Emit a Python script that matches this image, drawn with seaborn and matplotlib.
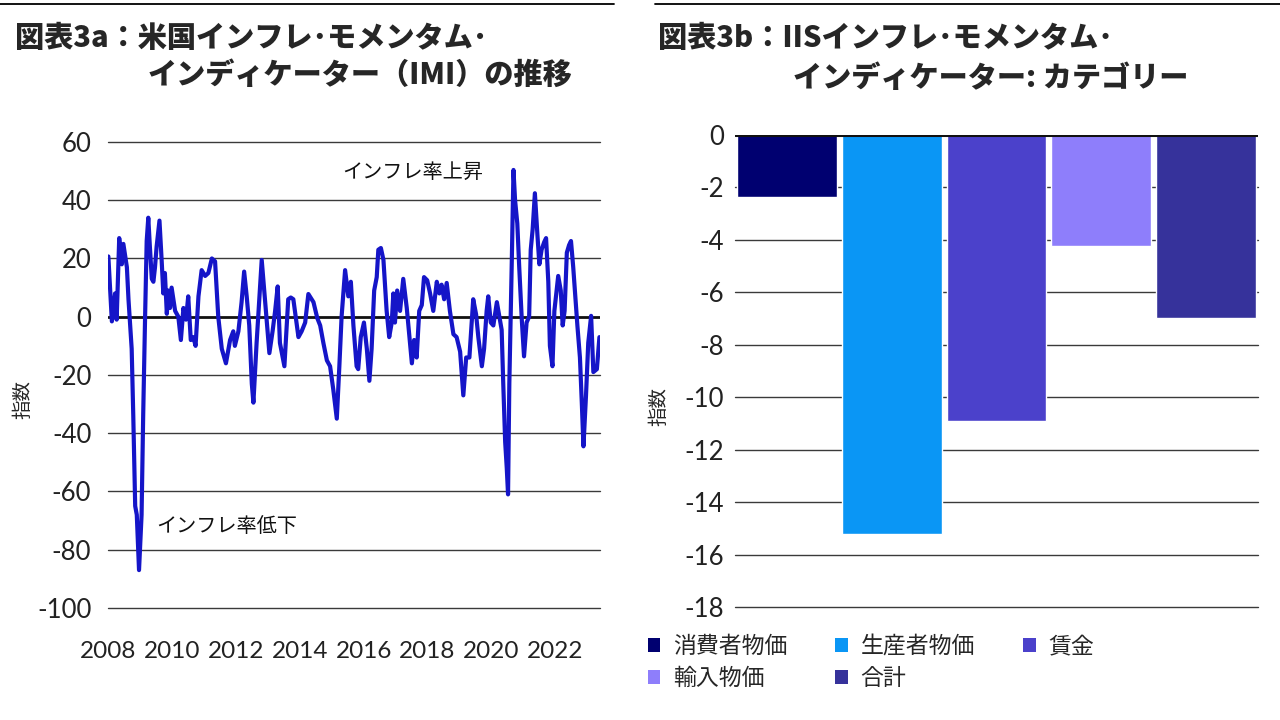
import matplotlib
matplotlib.use("Agg")
import matplotlib.pyplot as plt
import seaborn as sns
import pandas as pd
from matplotlib.lines import Line2D
from matplotlib.patches import Patch

sns.set_theme(style="white")
plt.rcParams['font.family'] = ['Noto Sans CJK JP', 'DejaVu Sans']
plt.rcParams['axes.unicode_minus'] = False

# 図表3a: 米国IMI (読み取り値)
imi_years = [
    2008.01, 2008.12, 2008.22, 2008.27, 2008.35, 2008.43, 2008.48, 2008.59, 2008.64, 2008.74,
    2008.79, 2008.85, 2008.90, 2008.97, 2009.05, 2009.10, 2009.16, 2009.21, 2009.26, 2009.31,
    2009.37, 2009.42, 2009.47, 2009.52, 2009.61, 2009.68, 2009.73, 2009.78, 2009.84, 2009.89,
    2009.94, 2009.99, 2010.10, 2010.20, 2010.28, 2010.36, 2010.44, 2010.51, 2010.59, 2010.67,
    2010.74, 2010.83, 2010.93, 2011.04, 2011.14, 2011.25, 2011.35, 2011.45, 2011.56, 2011.69,
    2011.82, 2011.92, 2011.97, 2012.08, 2012.18, 2012.26, 2012.34, 2012.42, 2012.50, 2012.55,
    2012.65, 2012.74, 2012.81, 2012.91, 2013.05, 2013.15, 2013.23, 2013.31, 2013.38, 2013.52,
    2013.64, 2013.72, 2013.80, 2013.96, 2014.06, 2014.17, 2014.27, 2014.43, 2014.55, 2014.64,
    2014.74, 2014.85, 2014.95, 2015.05, 2015.16, 2015.24, 2015.31, 2015.42, 2015.52, 2015.60,
    2015.68, 2015.78, 2015.83, 2015.91, 2016.01, 2016.10, 2016.18, 2016.25, 2016.33, 2016.41,
    2016.46, 2016.54, 2016.62, 2016.72, 2016.80, 2016.88, 2016.93, 2016.98, 2017.05, 2017.14,
    2017.24, 2017.35, 2017.45, 2017.51, 2017.58, 2017.66, 2017.74, 2017.82, 2017.89, 2017.99,
    2018.08, 2018.18, 2018.29, 2018.37, 2018.44, 2018.52, 2018.60, 2018.70, 2018.81, 2018.91,
    2019.02, 2019.12, 2019.21, 2019.31, 2019.38, 2019.43, 2019.52, 2019.59, 2019.70, 2019.77,
    2019.85, 2019.90, 2019.98, 2020.06, 2020.17, 2020.25, 2020.32, 2020.37, 2020.43, 2020.48,
    2020.52, 2020.56, 2020.64, 2020.69, 2020.74, 2020.81, 2020.87, 2020.95, 2021.02, 2021.10,
    2021.18, 2021.23, 2021.29, 2021.36, 2021.44, 2021.50, 2021.57, 2021.65, 2021.71, 2021.78,
    2021.83, 2021.91, 2021.97, 2022.04, 2022.09, 2022.17, 2022.23, 2022.29, 2022.36, 2022.43,
    2022.49, 2022.56, 2022.63, 2022.69, 2022.77, 2022.83, 2022.88, 2022.96, 2023.03, 2023.12,
    2023.19, 2023.30, 2023.38,
]
imi_values = [
    20.7, -1.6, 8, -1, 27, 18, 25, 17, 6, -11,
    -34, -65, -68, -87, -68, -34, 0, 26, 34, 24,
    13, 12, 17, 24, 33, 19, 8, 15, 1, 9,
    3, 10, 2, 0, -8, 3, -1, 7, -8, -7,
    -10, 7, 16, 14, 15, 20, 19, 0, -11, -16,
    -8, -5, -10, -5, 5, 15.5, 7, -3, -23, -29.5,
    -9, 7, 19.5, 6, -12.5, -5, 2, 10.4, -9, -17,
    6, 6.6, 6, -7, -5, -2, 7.8, 5, -0.5, -3,
    -9, -15, -17, -25, -35, -17, 0, 16, 7, 12,
    -3, -17, -18, -7, -2, -11, -22, -11, 9, 13.6,
    23, 23.6, 19.5, 2, -7, -2, 8, -2, 9, 2,
    13, 3, -9, -16, -8, -14, 2, 4, 13.6, 12.5,
    8, 2, 12, 8, 11, 6, 11.6, 2, -6, -7,
    -12, -27, -14, -14, -2, 6, 0.8, -7, -17, -11,
    2, 7, -2, -3, 5, 0, -4.5, -23, -43, -52,
    -61, -23, 20.7, 50.4, 40, 32, 17, -1, -13.6, -2,
    0, 23, 30, 42.4, 28, 18, 23, 25.6, 27, 12,
    -10, -17, 2, 9, 14, 9, -3, 2, 22, 24.6,
    26, 17, 6, -3, -14, -30, -44.5, -27, -9, 0.3,
    -19, -18, -7,
]
imi_yticks = [60, 40, 20, 0, -20, -40, -60, -80, -100]
imi_xticks = [2008, 2010, 2012, 2014, 2016, 2018, 2020, 2022]

# 図表3b: IIS カテゴリー別
categories = ['消費者物価', '生産者物価', '賃金', '輸入物価', '合計']
cat_values = [-2.35, -15.2, -10.9, -4.25, -6.97]
cat_colors = ['#000070', '#0A96F5', '#4B41CB', '#8E7EFB', '#36329B']
bar_yticks = [0, -2, -4, -6, -8, -10, -12, -14, -16, -18]

fig = plt.figure(figsize=(12.8, 7.2), dpi=100)

# 上部の区切り線
fig.add_artist(Line2D([0, 0.48], [0.995, 0.995], color='black', lw=1.3, transform=fig.transFigure))
fig.add_artist(Line2D([0.512, 1.0], [0.995, 0.995], color='black', lw=1.3, transform=fig.transFigure))

# タイトル
title_kw = dict(fontsize=21, fontweight='heavy', va='center')
fig.text(0.012, 0.947, '図表3a：米国インフレ･モメンタム･', **title_kw)
fig.text(0.1156, 0.896, 'インディケーター（IMI）の推移', **title_kw)
fig.text(0.514, 0.947, '図表3b：IISインフレ･モメンタム･', **title_kw)
fig.text(0.6195, 0.892, 'インディケーター: カテゴリー', **title_kw)

tick_font = ['Lato', 'DejaVu Sans']

# --- 左: IMI 推移 ---
ax1 = fig.add_axes([0.0844, 0.1556, 0.3844, 0.6472])
imi_df = pd.DataFrame({'year': imi_years, 'imi': imi_values})
for t in imi_yticks:
    if t != 0:
        ax1.axhline(t, color='#3a3a3a', lw=1.0, zorder=1, clip_on=False)
ax1.axhline(0, color='#111111', lw=2.0, zorder=1)
sns.lineplot(data=imi_df, x='year', y='imi', ax=ax1, color='#1515C8', lw=3.0, zorder=3)
ax1.set_xlim(2008, 2023.4)
ax1.set_ylim(-100, 60)
ax1.set_yticks(imi_yticks)
ax1.set_xticks(imi_xticks)
ax1.set_xticklabels([str(y) for y in imi_xticks], fontsize=17.5, family=tick_font, color='#222222')
ax1.set_yticklabels([str(v) for v in imi_yticks], fontsize=18.5, family=tick_font, color='#222222')
ax1.tick_params(axis='y', length=0, pad=12)
ax1.tick_params(axis='x', length=0, pad=24)
ax1.set_xlabel('')
ax1.set_ylabel('')
for s in ax1.spines.values():
    s.set_visible(False)
ax1.text(2017.55, 49.7, 'インフレ率上昇', fontsize=14.5, ha='center', va='center', color='#111111')
ax1.text(2011.72, -72, 'インフレ率低下', fontsize=14.5, ha='center', va='center', color='#111111')
fig.text(0.018, 0.445, '指数', fontsize=14, rotation=90, ha='center', va='center')

# --- 右: カテゴリー ---
ax2 = fig.add_axes([0.5742, 0.1569, 0.4086, 0.6556])
for t in bar_yticks:
    if t != 0:
        ax2.axhline(t, color='#3a3a3a', lw=1.0, zorder=0, clip_on=False)
bar_df = pd.DataFrame({'cat': categories, 'val': cat_values})
sns.barplot(data=bar_df, x='cat', y='val', hue='cat', palette=cat_colors, width=0.955,
            ax=ax2, legend=False, zorder=2, saturation=1)
ax2.axhline(0, color='#111111', lw=2.2, zorder=4)
ax2.set_xlim(-0.5, 4.5)
ax2.set_ylim(-18, 0)
ax2.set_yticks(bar_yticks)
ax2.set_yticklabels([str(v) for v in bar_yticks], fontsize=18.5, family=tick_font, color='#222222')
ax2.set_xticks([])
ax2.tick_params(axis='y', length=0, pad=8)
ax2.set_xlabel('')
ax2.set_ylabel('')
for s in ax2.spines.values():
    s.set_visible(False)
fig.text(0.515, 0.435, '指数', fontsize=14, rotation=90, ha='center', va='center')

# 凡例 (行方向に並べるため順序を入れ替え)
handles = [Patch(facecolor=c, edgecolor='none') for c in cat_colors]
order = [0, 3, 1, 4, 2]
fig.legend([handles[i] for i in order], [categories[i] for i in order],
           loc='upper left', bbox_to_anchor=(0.506, 0.118), ncol=3, frameon=False,
           fontsize=16.5, handlelength=0.55, handleheight=0.55, handletextpad=0.55,
           columnspacing=2.1, labelspacing=0.4, borderpad=0, borderaxespad=0)

fig.savefig('out.png', dpi=100)
